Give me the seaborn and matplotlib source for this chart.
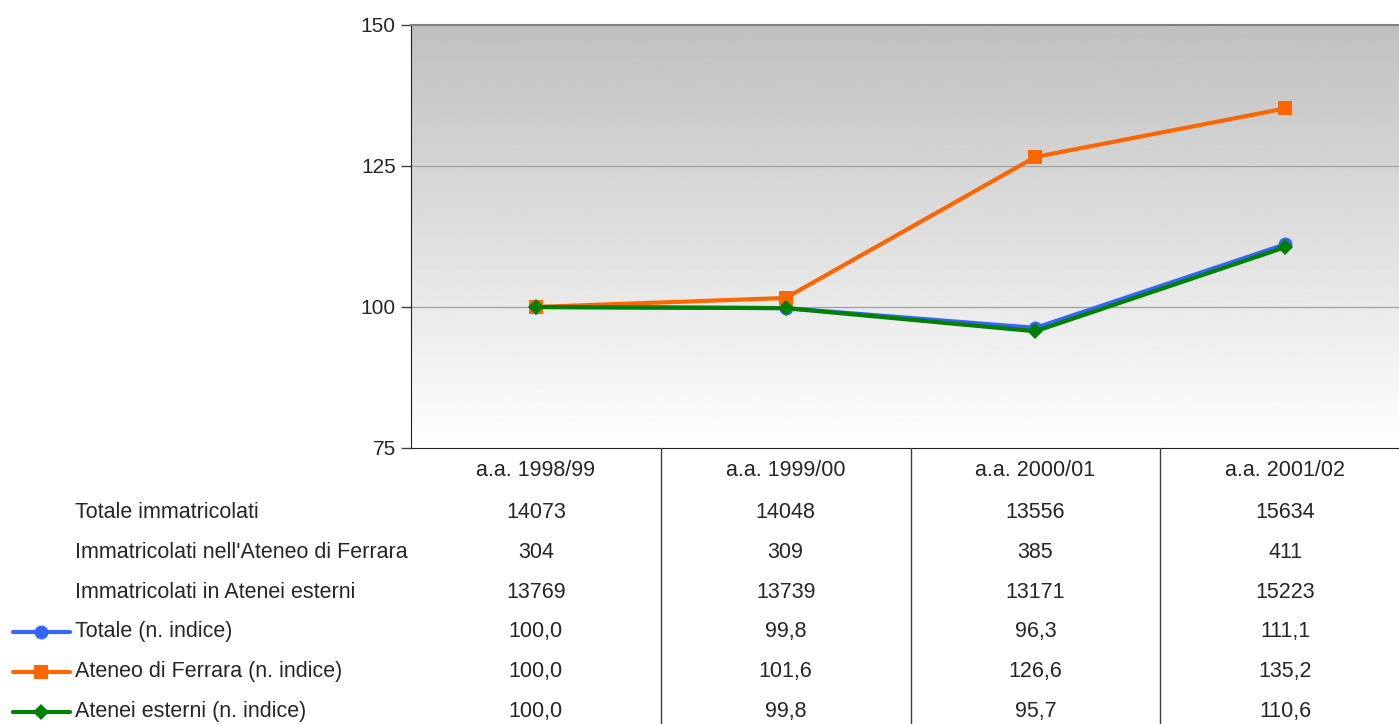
import numpy as np
import pandas as pd
import matplotlib
matplotlib.use('Agg')
import matplotlib.pyplot as plt
import matplotlib.transforms as mtransforms
from matplotlib.lines import Line2D
import seaborn as sns

# data
anni = ['a.a. 1998/99', 'a.a. 1999/00', 'a.a. 2000/01', 'a.a. 2001/02']
totale_imm = [14073, 14048, 13556, 15634]
ferrara_imm = [304, 309, 385, 411]
esterni_imm = [13769, 13739, 13171, 15223]
totale_idx = [100.0, 99.8, 96.3, 111.1]
ferrara_idx = [100.0, 101.6, 126.6, 135.2]
esterni_idx = [100.0, 99.8, 95.7, 110.6]

serie = ['Totale (n. indice)', 'Ateneo di Ferrara (n. indice)', 'Atenei esterni (n. indice)']
colori = ['#3366ff', '#ff6600', '#008000']
marker = ['o', 's', 'D']
msize = {'o': 10, 's': 10, 'D': 8.5}

sns.set_style('white')
plt.rcParams['font.family'] = ['Liberation Sans', 'DejaVu Sans']

df = pd.DataFrame({
    'x': list(range(4)) * 3,
    'valore': totale_idx + ferrara_idx + esterni_idx,
    'serie': [s for s in serie for _ in range(4)],
})

W, H = 1399, 724
fig = plt.figure(figsize=(W / 100, H / 100), dpi=100)
ax = fig.add_axes([411 / W, 1 - 448 / H, 999 / W, (448 - 25) / H])

# gradient background, grey at the top fading to white
grad = np.linspace(0.75, 1.0, 256).reshape(-1, 1)
ax.imshow(grad, cmap='gray', vmin=0, vmax=1, aspect='auto', origin='upper',
          extent=[-0.5, 3.5, 75, 150], zorder=0)

for s, c, m in zip(serie, colori, marker):
    sns.lineplot(data=df[df['serie'] == s], x='x', y='valore', color=c,
                 marker=m, markersize=msize[m], markeredgewidth=0,
                 linewidth=3, ax=ax, zorder=3)

ax.set_xlim(-0.5, 3.5)
ax.set_ylim(75, 150)
ax.set_yticks([75, 100, 125, 150])
ax.set_yticklabels(['75', '100', '125', '150'], fontsize=15)
ax.set_xticks([])
ax.set_xlabel('')
ax.set_ylabel('')
for yv in [100, 125]:
    ax.axhline(yv, color='#a0a0a0', lw=0.9, zorder=1)
ax.tick_params(axis='y', left=True, length=7, width=1, color='#404040', pad=4)
ax.spines['right'].set_visible(False)
ax.spines['top'].set_color('#808080')
ax.spines['top'].set_linewidth(1.5)
ax.spines['left'].set_color('#202020')
ax.spines['bottom'].set_color('#202020')

# data table below the plot
trans = mtransforms.blended_transform_factory(ax.transData, fig.transFigure)
righe = [
    ('Totale immatricolati', [str(v) for v in totale_imm]),
    ("Immatricolati nell'Ateneo di Ferrara", [str(v) for v in ferrara_imm]),
    ('Immatricolati in Atenei esterni', [str(v) for v in esterni_imm]),
    (serie[0], [f'{v:.1f}'.replace('.', ',') for v in totale_idx]),
    (serie[1], [f'{v:.1f}'.replace('.', ',') for v in ferrara_idx]),
    (serie[2], [f'{v:.1f}'.replace('.', ',') for v in esterni_idx]),
]
y_head = 470
y_rows = [513, 552, 592, 632, 672, 712]
fs = 15.5

for i, a in enumerate(anni):
    ax.text(i, 1 - y_head / H, a, transform=trans, ha='center', va='center',
            fontsize=fs, clip_on=False)
for (lab, vals), yp in zip(righe, y_rows):
    fig.text(75 / W, 1 - yp / H, lab, ha='left', va='center', fontsize=fs)
    for i, v in enumerate(vals):
        ax.text(i, 1 - yp / H, v, transform=trans, ha='center', va='center',
                fontsize=fs, clip_on=False)

for i in range(1, 4):
    fig.add_artist(Line2D([i - 0.5, i - 0.5], [0, 1 - 448 / H], transform=trans,
                          color='#404040', lw=1))

for k, (c, m) in enumerate(zip(colori, marker)):
    yp = 1 - y_rows[3 + k] / H
    fig.add_artist(Line2D([13 / W, 70 / W], [yp, yp], color=c, lw=3,
                          transform=fig.transFigure))
    fig.add_artist(Line2D([41 / W], [yp], color=c, marker=m,
                          markersize=msize[m], markeredgewidth=0,
                          transform=fig.transFigure))

fig.savefig('out.png', dpi=100)
